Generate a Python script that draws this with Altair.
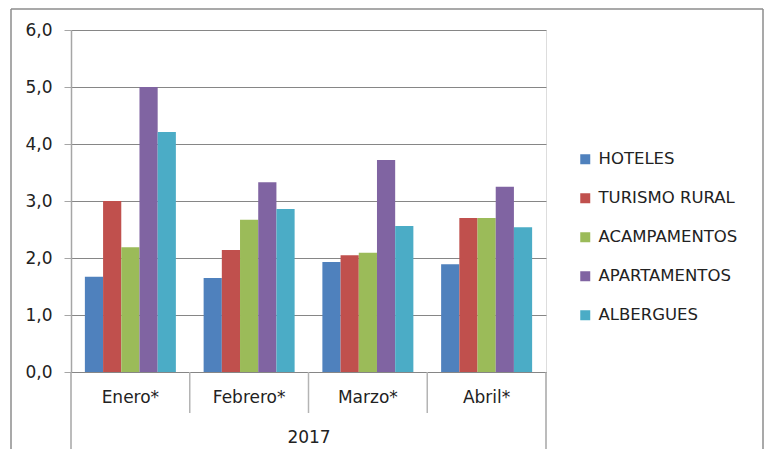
import altair as alt
import pandas as pd

months = ["Enero*", "Febrero*", "Marzo*", "Abril*"]
series = ["HOTELES", "TURISMO RURAL", "ACAMPAMENTOS", "APARTAMENTOS", "ALBERGUES"]
hoteles = [1.67, 1.65, 1.93, 1.89]
turismo_rural = [3.00, 2.14, 2.05, 2.70]
acampamentos = [2.19, 2.67, 2.09, 2.70]
apartamentos = [5.00, 3.33, 3.72, 3.25]
albergues = [4.21, 2.86, 2.56, 2.54]
colors = ["#4F81BD", "#C0504D", "#9BBB59", "#8064A2", "#4BACC6"]
y_ticks = [0, 1, 2, 3, 4, 5, 6]
year = "2017"

values_by_series = [hoteles, turismo_rural, acampamentos, apartamentos, albergues]
rows = []
for s, vals in zip(series, values_by_series):
    for m, v in zip(months, vals):
        rows.append({"month": m, "series": s, "value": v})
df = pd.DataFrame(rows)

W, H = 475, 342
FONT = "DejaVu Sans"
TXT = "#222222"
AXC = "#a6a6a6"
GRID = "#868686"
BORDER = "#8c8c8c"

x_enc = alt.X(
    "month:N", sort=months,
    scale=alt.Scale(paddingInner=0, paddingOuter=0),
    axis=alt.Axis(title=year, ticks=False, domain=True, domainColor=GRID,
                  labelAngle=0, labelFontSize=17, labelFont=FONT, labelColor=TXT,
                  labelPadding=17, titleFontSize=17, titleFont=FONT, titleColor=TXT,
                  titleFontWeight="normal", titlePadding=24),
)

bars = alt.Chart(df).mark_bar().encode(
    x=x_enc,
    xOffset=alt.XOffset("series:N", sort=series,
                        scale=alt.Scale(paddingInner=0, paddingOuter=0.7625)),
    y=alt.Y("value:Q",
            scale=alt.Scale(domain=[0, 6]),
            axis=alt.Axis(title=None, values=y_ticks, grid=True, gridColor=GRID,
                          gridWidth=1, domainColor=AXC, domainWidth=1.5,
                          tickColor=AXC, tickSize=7, labelPadding=12,
                          labelFontSize=17, labelFont=FONT, labelColor=TXT,
                          labelExpr="replace(format(datum.value, '.1f'), '.', ',')")),
    color=alt.Color("series:N", sort=series,
                    scale=alt.Scale(domain=series, range=colors),
                    legend=alt.Legend(title=None, orient="none", legendX=506, legendY=121,
                                      symbolType="square", symbolSize=100,
                                      symbolStrokeWidth=0, labelFontSize=16.5,
                                      labelFont=FONT, labelColor=TXT, labelOffset=5,
                                      rowPadding=22, padding=0)),
)

dividers = alt.Chart(pd.DataFrame({"month": months[1:]})).mark_rule(
    color="#b4b4b4", strokeWidth=1.5
).encode(
    x=alt.X("month:N", sort=months, bandPosition=0),
    y=alt.value(H), y2=alt.value(H + 41),
)

left_ext = alt.Chart(pd.DataFrame({"a": [0]})).mark_rule(color=AXC, strokeWidth=1.5).encode(
    x=alt.value(0), y=alt.value(H), y2=alt.value(H + 81))
right_ext = alt.Chart(pd.DataFrame({"a": [0]})).mark_rule(color=AXC, strokeWidth=1.5).encode(
    x=alt.value(W), y=alt.value(H), y2=alt.value(H + 81))

b_left = alt.Chart(pd.DataFrame({"a": [0]})).mark_rule(color=BORDER, strokeWidth=1.5).encode(
    x=alt.value(-60), y=alt.value(-21), y2=alt.value(H + 90))
b_right = alt.Chart(pd.DataFrame({"a": [0]})).mark_rule(color=BORDER, strokeWidth=1.5).encode(
    x=alt.value(692), y=alt.value(-21), y2=alt.value(H + 90))
b_top = alt.Chart(pd.DataFrame({"a": [0]})).mark_rule(color=BORDER, strokeWidth=1.5).encode(
    x=alt.value(-60), x2=alt.value(692), y=alt.value(-21))

chart = alt.layer(bars, dividers, left_ext, right_ext, b_left, b_right, b_top).properties(
    width=W, height=H,
    autosize=alt.AutoSizeParams(type="none"),
    padding={"left": 63, "top": 22, "right": 218, "bottom": 77},
).configure_view(stroke=None).configure(background="white")

chart.save("out.html", embed_options={"renderer": "svg", "actions": False})
